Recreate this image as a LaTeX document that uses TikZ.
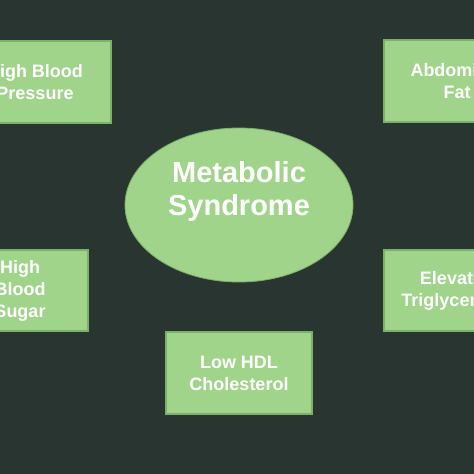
\documentclass[tikz,border=0pt]{standalone}
\usepackage{fontspec}
\setmainfont{Liberation Sans}
\usetikzlibrary{shapes.geometric}
\definecolor{bgc}{HTML}{283531}
\definecolor{boxfill}{HTML}{A1D48B}
\definecolor{boxedge}{HTML}{7DB068}
\tikzset{
  factor/.style={rectangle, fill=boxfill, draw=boxedge, line width=1.2pt, inner sep=0pt,
    text=white, font=\bfseries\fontsize{18}{22}\selectfont, align=center},
  core/.style={ellipse, fill=boxfill, draw=boxedge, line width=0.8pt, inner sep=0pt,
    minimum width=228pt, minimum height=154pt},
  coretext/.style={text=white, font=\bfseries\fontsize{29}{33}\selectfont, align=center, inner sep=0pt}
}
\begin{document}
\begin{tikzpicture}[x=1pt,y=-1pt]
\useasboundingbox (0,0) rectangle (474,474);
\clip (0,0) rectangle (474,474);
\fill[bgc] (0,0) rectangle (474,474);
\node[core] (ms) at (239,205) {};
\node[coretext] (mst) at ([yshift=14pt]ms.center) {Metabolic\\Syndrome};
\node[factor, minimum width=152pt, minimum height=82pt] (bp) at (35,82) {High Blood\\Pressure};
\node[factor, minimum width=146pt, minimum height=82pt] (af) at (457,81) {Abdominal\\Fat};
\node[factor, minimum width=136pt, minimum height=81pt] (bs) at (20,290.5) {High\\Blood\\Sugar};
\node[factor, minimum width=146pt, minimum height=81pt] (tg) at (457,290.5) {Elevated\\Triglycerides};
\node[factor, minimum width=146pt, minimum height=82pt] (hdl) at (239,373) {Low HDL\\Cholesterol};
\end{tikzpicture}
\end{document}
